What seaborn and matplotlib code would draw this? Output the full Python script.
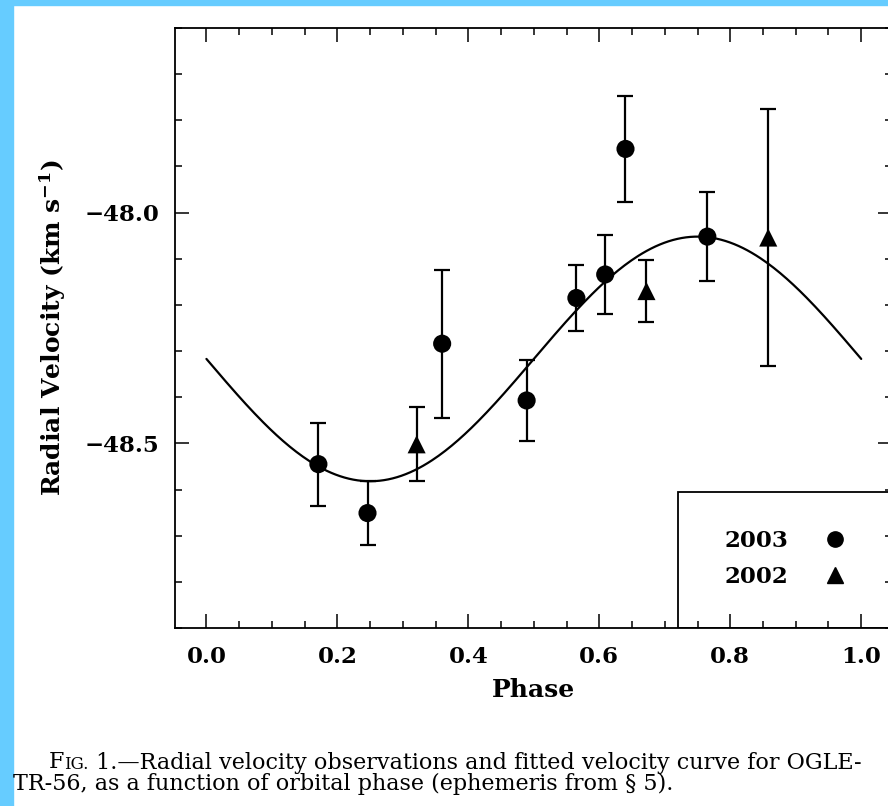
import matplotlib
matplotlib.use("Agg")
import matplotlib.pyplot as plt
from matplotlib.patches import Rectangle
from matplotlib.ticker import MultipleLocator, FuncFormatter
import numpy as np
import pandas as pd
import seaborn as sns

# 2003 observations (circles)
phase_2003 = [0.171, 0.246, 0.360, 0.489, 0.565, 0.609, 0.640, 0.765]
rv_2003 = [-48.545, -48.651, -48.284, -48.407, -48.185, -48.134, -47.862, -48.052]
err_2003 = [0.090, 0.070, 0.160, 0.088, 0.071, 0.085, 0.114, 0.096]

# 2002 observations (triangles)
phase_2002 = [0.321, 0.672, 0.858]
rv_2002 = [-48.502, -48.170, -48.054]
err_2002 = [0.080, 0.067, 0.278]

# fitted circular orbit: systemic velocity and semi-amplitude
gamma = -48.317
k_amp = 0.265

caption_1 = "1.\u2014Radial velocity observations and fitted velocity curve for OGLE-"
caption_2 = "TR-56, as a function of orbital phase (ephemeris from \u00a7 5)."


def main() -> None:
    sns.set_style("ticks")
    plt.rcParams["font.family"] = ["DejaVu Serif"]
    plt.rcParams["mathtext.fontset"] = "dejavuserif"
    plt.rcParams["font.weight"] = "bold"
    plt.rcParams["axes.labelweight"] = "bold"
    plt.rcParams["text.color"] = "black"
    plt.rcParams["axes.labelcolor"] = "black"

    df = pd.DataFrame({
        "phase": phase_2003 + phase_2002,
        "rv": rv_2003 + rv_2002,
        "err": err_2003 + err_2002,
        "year": ["2003"] * len(phase_2003) + ["2002"] * len(phase_2002),
    })
    ph = np.linspace(0, 1, 300)
    curve = pd.DataFrame({"phase": ph, "rv": gamma - k_amp * np.sin(2 * np.pi * ph)})

    fig = plt.figure(figsize=(8.88, 8.06), dpi=100)
    fig.patches.append(Rectangle((0, 0), 13 / 888, 1, transform=fig.transFigure,
                                 color="#66ccff", zorder=-5))
    fig.patches.append(Rectangle((0, 1 - 5 / 806), 1, 5 / 806, transform=fig.transFigure,
                                 color="#66ccff", zorder=-5))
    ax = fig.add_axes([175 / 888, 1 - 628 / 806, 717 / 888, 600 / 806])

    sns.lineplot(data=curve, x="phase", y="rv", color="black", lw=1.6, ax=ax)
    ax.errorbar(df["phase"], df["rv"], yerr=df["err"], fmt="none", ecolor="black",
                elinewidth=1.6, capsize=5.5, capthick=1.6, zorder=3)
    sns.scatterplot(data=df, x="phase", y="rv", style="year",
                    markers={"2003": "o", "2002": "^"}, color="black",
                    s=170, edgecolor="black", linewidth=0, ax=ax, zorder=4, legend=False)

    ax.set_xlim(-0.048, 1.047)
    ax.set_ylim(-48.9, -47.6)
    ax.xaxis.set_major_locator(MultipleLocator(0.2))
    ax.xaxis.set_minor_locator(MultipleLocator(0.05))
    ax.yaxis.set_major_locator(MultipleLocator(0.5))
    ax.yaxis.set_minor_locator(MultipleLocator(0.1))
    ax.yaxis.set_major_formatter(FuncFormatter(lambda v, p: f"{v:.1f}".replace("-", "\u2212")))
    ax.tick_params(which="both", direction="in", top=True, right=True, width=1.1,
                   labelsize=16.5, colors="black")
    ax.tick_params(which="major", length=10)
    ax.tick_params(which="minor", length=5)
    ax.tick_params(axis="x", pad=13)
    ax.tick_params(axis="y", pad=11)
    for s in ax.spines.values():
        s.set_linewidth(1.3)
        s.set_color("black")

    ax.set_xlabel("Phase", fontsize=18, labelpad=7)
    ax.set_ylabel("Radial Velocity (km s$^{\\mathbf{-1}}$)", fontsize=18, labelpad=12)

    # legend box in the lower right corner
    ax.add_patch(Rectangle((503 / 717, 0), 1 - 503 / 717, 136 / 600,
                           transform=ax.transAxes, fill=False, ec="black", lw=1.3, zorder=5))
    h1 = plt.Line2D([], [], ls="none", marker="o", color="black", markersize=11)
    h2 = plt.Line2D([], [], ls="none", marker="^", color="black", markersize=12)
    ax.legend([h1, h2], ["2003", "2002"], loc="center", bbox_to_anchor=(0.853, 0.115),
              frameon=False, markerfirst=False, prop={"size": 16.5, "weight": "bold"},
              handletextpad=1.4, labelspacing=0.6, borderpad=0, handlelength=1.2)

    # caption with small caps "FIG."
    cap = {"family": "DejaVu Serif", "weight": "normal", "color": "black"}
    t1 = fig.text(49 / 888, 1 - 768 / 806, "F", fontsize=16, va="baseline", **cap)
    t2 = ax.annotate("IG.", xy=(1, 0), xycoords=t1, fontsize=12, va="bottom", **cap)
    ax.annotate(" " + caption_1, xy=(1, 0), xycoords=t2, xytext=(0, -1),
                textcoords="offset points", fontsize=16, va="bottom", **cap)
    fig.text(13 / 888, 1 - 790 / 806, caption_2, fontsize=16, va="baseline", **cap)

    fig.savefig("out.png", dpi=100, facecolor="white")


if __name__ == "__main__":
    main()
